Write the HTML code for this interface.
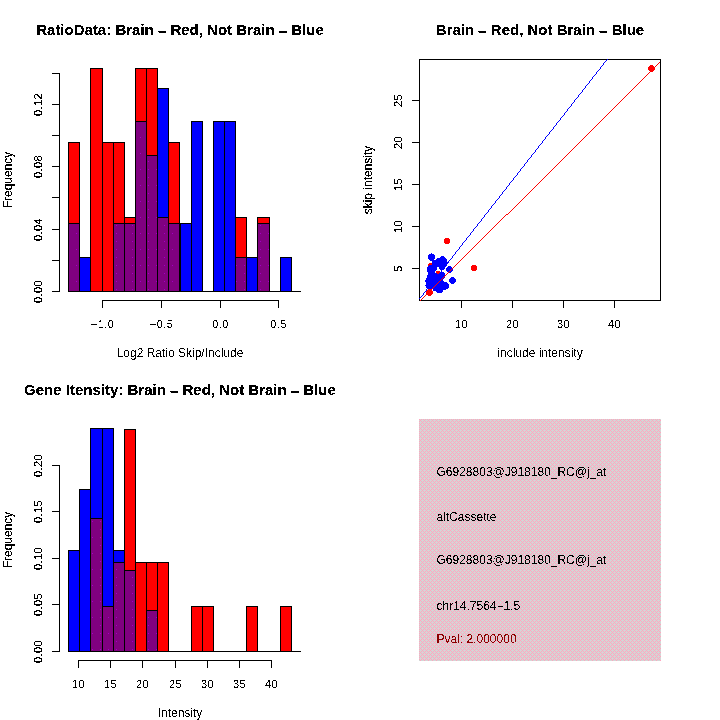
<!DOCTYPE html>
<html><head><meta charset="utf-8"><style>
html,body{margin:0;padding:0;background:#fff;}
svg{display:block;}
text{font-family:"Liberation Sans",sans-serif;}
.ti{font-weight:bold;font-size:15px;}
.lb{font-size:12px;}
.da{stroke:#000;stroke-width:0.3px;}
.tk{font-size:11px;letter-spacing:0.4px;}
.ln line,.ln rect{stroke:#000;stroke-width:1;}
.ln line{shape-rendering:crispEdges;}
.ln rect{shape-rendering:crispEdges;}
</style></head><body>
<svg width="720" height="720" viewBox="0 0 720 720">
<defs>
<filter id="bin" x="0" y="0" width="100%" height="100%" filterUnits="userSpaceOnUse" color-interpolation-filters="sRGB">
<feComponentTransfer><feFuncA type="discrete" tableValues="0 1"/></feComponentTransfer>
</filter>
<filter id="bin2" x="0" y="0" width="100%" height="100%" filterUnits="userSpaceOnUse" color-interpolation-filters="sRGB">
<feComponentTransfer><feFuncA type="discrete" tableValues="0 0 0 0 1 1 1 1 1 1"/></feComponentTransfer>
</filter>
<pattern id="purp" x="0" y="0" width="16" height="16" patternUnits="userSpaceOnUse">
<rect width="16" height="16" fill="#800080"/>
<rect x="4" y="1" width="1" height="1" fill="#a400c4"/><rect x="4" y="9" width="1" height="1" fill="#a400c4"/><rect x="12" y="9" width="1" height="1" fill="#a400c4"/>
</pattern>
<pattern id="dith" x="419" y="419" width="4" height="4" patternUnits="userSpaceOnUse">
<rect width="4" height="4" fill="#d4d5d5"/>
<rect x="0" y="0" width="1" height="1" fill="#ffa6bf"/><rect x="2" y="0" width="1" height="1" fill="#ffa6bf"/>
<rect x="1" y="1" width="1" height="1" fill="#ffa6bf"/>
<rect x="0" y="2" width="1" height="1" fill="#ffa6bf"/><rect x="2" y="2" width="1" height="1" fill="#ffa6bf"/>
<rect x="3" y="3" width="1" height="1" fill="#ffa6bf"/>
</pattern>
</defs>
<rect width="720" height="720" fill="#fff"/>
<g class="ln">
<rect x="68.5" y="142.5" width="11" height="149" fill="#ff0000"/>
<rect x="68.5" y="223.5" width="11" height="68" fill="url(#purp)"/>
<rect x="79.5" y="257.5" width="11" height="34" fill="#0000ff"/>
<rect x="90.5" y="68.5" width="12" height="223" fill="#ff0000"/>
<rect x="102.5" y="142.5" width="11" height="149" fill="#ff0000"/>
<rect x="113.5" y="142.5" width="11" height="149" fill="#ff0000"/>
<rect x="113.5" y="223.5" width="11" height="68" fill="url(#purp)"/>
<rect x="124.5" y="217.5" width="11" height="74" fill="#ff0000"/>
<rect x="124.5" y="223.5" width="11" height="68" fill="url(#purp)"/>
<rect x="135.5" y="68.5" width="11" height="223" fill="#ff0000"/>
<rect x="135.5" y="121.5" width="11" height="170" fill="url(#purp)"/>
<rect x="146.5" y="68.5" width="11" height="223" fill="#ff0000"/>
<rect x="146.5" y="155.5" width="11" height="136" fill="url(#purp)"/>
<rect x="157.5" y="88.5" width="11" height="203" fill="#0000ff"/>
<rect x="157.5" y="217.5" width="11" height="74" fill="url(#purp)"/>
<rect x="168.5" y="142.5" width="11" height="149" fill="#ff0000"/>
<rect x="168.5" y="223.5" width="11" height="68" fill="url(#purp)"/>
<rect x="180.5" y="223.5" width="11" height="68" fill="#0000ff"/>
<rect x="191.5" y="121.5" width="11" height="170" fill="#0000ff"/>
<rect x="213.5" y="121.5" width="11" height="170" fill="#0000ff"/>
<rect x="224.5" y="121.5" width="11" height="170" fill="#0000ff"/>
<rect x="235.5" y="217.5" width="11" height="74" fill="#ff0000"/>
<rect x="235.5" y="257.5" width="11" height="34" fill="url(#purp)"/>
<rect x="246.5" y="257.5" width="11" height="34" fill="#0000ff"/>
<rect x="257.5" y="217.5" width="12" height="74" fill="#ff0000"/>
<rect x="257.5" y="223.5" width="12" height="68" fill="url(#purp)"/>
<rect x="280.5" y="257.5" width="11" height="34" fill="#0000ff"/>
<line x1="68" y1="291.5" x2="301" y2="291.5"/>
<line x1="102" y1="300.5" x2="279" y2="300.5"/>
<line x1="102.5" y1="300" x2="102.5" y2="308"/>
<line x1="161.5" y1="300" x2="161.5" y2="308"/>
<line x1="220.5" y1="300" x2="220.5" y2="308"/>
<line x1="278.5" y1="300" x2="278.5" y2="308"/>
<line x1="59.5" y1="73" x2="59.5" y2="292"/>
<line x1="52" y1="291.5" x2="60" y2="291.5"/>
<line x1="52" y1="260.5" x2="60" y2="260.5"/>
<line x1="52" y1="229.5" x2="60" y2="229.5"/>
<line x1="52" y1="197.5" x2="60" y2="197.5"/>
<line x1="52" y1="166.5" x2="60" y2="166.5"/>
<line x1="52" y1="135.5" x2="60" y2="135.5"/>
<line x1="52" y1="104.5" x2="60" y2="104.5"/>
<line x1="52" y1="73.5" x2="60" y2="73.5"/>
</g>
<g class="ln">
<rect x="68.5" y="550.5" width="11" height="101" fill="#0000ff"/>
<rect x="79.5" y="489.5" width="11" height="162" fill="#0000ff"/>
<rect x="90.5" y="428.5" width="12" height="223" fill="#0000ff"/>
<rect x="90.5" y="518.5" width="12" height="133" fill="url(#purp)"/>
<rect x="102.5" y="428.5" width="11" height="223" fill="#0000ff"/>
<rect x="102.5" y="606.5" width="11" height="45" fill="url(#purp)"/>
<rect x="113.5" y="550.5" width="11" height="101" fill="#0000ff"/>
<rect x="113.5" y="562.5" width="11" height="89" fill="url(#purp)"/>
<rect x="124.5" y="429.5" width="11" height="222" fill="#ff0000"/>
<rect x="124.5" y="570.5" width="11" height="81" fill="url(#purp)"/>
<rect x="135.5" y="562.5" width="11" height="89" fill="#ff0000"/>
<rect x="146.5" y="562.5" width="11" height="89" fill="#ff0000"/>
<rect x="146.5" y="610.5" width="11" height="41" fill="url(#purp)"/>
<rect x="157.5" y="562.5" width="11" height="89" fill="#ff0000"/>
<rect x="191.5" y="606.5" width="11" height="45" fill="#ff0000"/>
<rect x="202.5" y="606.5" width="11" height="45" fill="#ff0000"/>
<rect x="246.5" y="606.5" width="11" height="45" fill="#ff0000"/>
<rect x="280.5" y="606.5" width="11" height="45" fill="#ff0000"/>
<line x1="68" y1="651.5" x2="301" y2="651.5"/>
<line x1="78" y1="660.5" x2="272" y2="660.5"/>
<line x1="78.5" y1="660" x2="78.5" y2="668"/>
<line x1="110.5" y1="660" x2="110.5" y2="668"/>
<line x1="142.5" y1="660" x2="142.5" y2="668"/>
<line x1="175.5" y1="660" x2="175.5" y2="668"/>
<line x1="207.5" y1="660" x2="207.5" y2="668"/>
<line x1="239.5" y1="660" x2="239.5" y2="668"/>
<line x1="271.5" y1="660" x2="271.5" y2="668"/>
<line x1="59.5" y1="465" x2="59.5" y2="652"/>
<line x1="52" y1="651.5" x2="60" y2="651.5"/>
<line x1="52" y1="604.5" x2="60" y2="604.5"/>
<line x1="52" y1="558.5" x2="60" y2="558.5"/>
<line x1="52" y1="511.5" x2="60" y2="511.5"/>
<line x1="52" y1="465.5" x2="60" y2="465.5"/>
</g>
<g shape-rendering="crispEdges">
<rect x="431" y="253" width="1" height="1" fill="#0000ff"/>
<rect x="429" y="254" width="5" height="1" fill="#0000ff"/>
<rect x="428" y="255" width="7" height="1" fill="#0000ff"/>
<rect x="428" y="256" width="7" height="1" fill="#0000ff"/>
<rect x="441" y="256" width="3" height="1" fill="#0000ff"/>
<rect x="428" y="257" width="7" height="1" fill="#0000ff"/>
<rect x="440" y="257" width="5" height="1" fill="#0000ff"/>
<rect x="428" y="258" width="7" height="1" fill="#0000ff"/>
<rect x="437" y="258" width="9" height="1" fill="#0000ff"/>
<rect x="429" y="259" width="5" height="1" fill="#0000ff"/>
<rect x="436" y="259" width="11" height="1" fill="#0000ff"/>
<rect x="430" y="260" width="17" height="1" fill="#0000ff"/>
<rect x="432" y="261" width="15" height="1" fill="#0000ff"/>
<rect x="432" y="262" width="16" height="1" fill="#0000ff"/>
<rect x="432" y="263" width="16" height="1" fill="#0000ff"/>
<rect x="432" y="264" width="15" height="1" fill="#0000ff"/>
<rect x="429" y="265" width="18" height="1" fill="#0000ff"/>
<rect x="428" y="266" width="18" height="1" fill="#0000ff"/>
<rect x="427" y="267" width="10" height="1" fill="#0000ff"/>
<rect x="439" y="267" width="6" height="1" fill="#0000ff"/>
<rect x="427" y="268" width="10" height="1" fill="#0000ff"/>
<rect x="439" y="268" width="6" height="1" fill="#0000ff"/>
<rect x="427" y="269" width="10" height="1" fill="#0000ff"/>
<rect x="440" y="269" width="4" height="1" fill="#0000ff"/>
<rect x="427" y="270" width="9" height="1" fill="#0000ff"/>
<rect x="441" y="270" width="1" height="1" fill="#0000ff"/>
<rect x="427" y="271" width="8" height="1" fill="#0000ff"/>
<rect x="428" y="272" width="7" height="1" fill="#0000ff"/>
<rect x="440" y="272" width="4" height="1" fill="#0000ff"/>
<rect x="428" y="273" width="9" height="1" fill="#0000ff"/>
<rect x="439" y="273" width="6" height="1" fill="#0000ff"/>
<rect x="428" y="274" width="17" height="1" fill="#0000ff"/>
<rect x="427" y="275" width="18" height="1" fill="#0000ff"/>
<rect x="427" y="276" width="18" height="1" fill="#0000ff"/>
<rect x="427" y="277" width="18" height="1" fill="#0000ff"/>
<rect x="426" y="278" width="18" height="1" fill="#0000ff"/>
<rect x="426" y="279" width="17" height="1" fill="#0000ff"/>
<rect x="425" y="280" width="18" height="1" fill="#0000ff"/>
<rect x="425" y="281" width="19" height="1" fill="#0000ff"/>
<rect x="426" y="282" width="21" height="1" fill="#0000ff"/>
<rect x="426" y="283" width="22" height="1" fill="#0000ff"/>
<rect x="426" y="284" width="23" height="1" fill="#0000ff"/>
<rect x="425" y="285" width="24" height="1" fill="#0000ff"/>
<rect x="426" y="286" width="23" height="1" fill="#0000ff"/>
<rect x="426" y="287" width="23" height="1" fill="#0000ff"/>
<rect x="427" y="288" width="21" height="1" fill="#0000ff"/>
<rect x="433" y="289" width="13" height="1" fill="#0000ff"/>
<rect x="433" y="290" width="10" height="1" fill="#0000ff"/>
<rect x="436" y="291" width="7" height="1" fill="#0000ff"/>
<rect x="437" y="292" width="5" height="1" fill="#0000ff"/>
<rect x="429" y="263" width="3" height="1" fill="#ff0000"/>
<rect x="428" y="264" width="4" height="1" fill="#ff0000"/>
<rect x="428" y="265" width="1" height="1" fill="#ff0000"/>
<rect x="436" y="271" width="4" height="1" fill="#ff0000"/>
<rect x="436" y="272" width="4" height="1" fill="#ff0000"/>
<rect x="437" y="273" width="2" height="1" fill="#ff0000"/>
</g>
<g shape-rendering="crispEdges">
<path d="M448 266h3v1h-3zM447 267h5v1h-5zM446 268h7v1h-7zM446 269h7v1h-7zM446 270h7v1h-7zM447 271h5v1h-5zM448 272h3v1h-3zM451 277h3v1h-3zM450 278h5v1h-5zM449 279h7v1h-7zM449 280h7v1h-7zM449 281h7v1h-7zM450 282h5v1h-5zM451 283h3v1h-3z" fill="#0000ff"/>
<path d="M428 289h3v1h-3zM427 290h5v1h-5zM426 291h7v1h-7zM426 292h7v1h-7zM426 293h7v1h-7zM427 294h5v1h-5zM428 295h3v1h-3zM445 238h4v1h-4zM444 239h6v1h-6zM444 240h6v1h-6zM444 241h6v1h-6zM444 242h6v1h-6zM445 243h4v1h-4zM472 265h4v1h-4zM471 266h6v1h-6zM471 267h6v1h-6zM471 268h6v1h-6zM471 269h6v1h-6zM472 270h4v1h-4zM650 65h3v1h-3zM649 66h5v1h-5zM648 67h7v1h-7zM648 68h7v1h-7zM648 69h7v1h-7zM649 70h5v1h-5zM650 71h3v1h-3z" fill="#ff0000"/>
</g>
<g class="ln">
<rect x="419.5" y="59.5" width="241" height="241" fill="none"/>
<line x1="461.5" y1="300" x2="461.5" y2="308"/>
<line x1="512.5" y1="300" x2="512.5" y2="308"/>
<line x1="563.5" y1="300" x2="563.5" y2="308"/>
<line x1="614.5" y1="300" x2="614.5" y2="308"/>
<line x1="412" y1="268.5" x2="420" y2="268.5"/>
<line x1="412" y1="226.5" x2="420" y2="226.5"/>
<line x1="412" y1="184.5" x2="420" y2="184.5"/>
<line x1="412" y1="142.5" x2="420" y2="142.5"/>
<line x1="412" y1="100.5" x2="420" y2="100.5"/>
</g>
<path d="M607 59h1v1h-1zM606 60h1v1h-1zM605 61h1v1h-1zM604 62h1v1h-1zM603 63h1v1h-1zM603 64h1v1h-1zM602 65h1v1h-1zM601 66h1v1h-1zM600 67h1v1h-1zM600 68h1v1h-1zM599 69h1v1h-1zM598 70h1v1h-1zM597 71h1v1h-1zM596 72h1v1h-1zM596 73h1v1h-1zM595 74h1v1h-1zM594 75h1v1h-1zM593 76h1v1h-1zM592 77h1v1h-1zM592 78h1v1h-1zM591 79h1v1h-1zM590 80h1v1h-1zM589 81h1v1h-1zM589 82h1v1h-1zM588 83h1v1h-1zM587 84h1v1h-1zM586 85h1v1h-1zM585 86h1v1h-1zM585 87h1v1h-1zM584 88h1v1h-1zM583 89h1v1h-1zM582 90h1v1h-1zM582 91h1v1h-1zM581 92h1v1h-1zM580 93h1v1h-1zM579 94h1v1h-1zM578 95h1v1h-1zM578 96h1v1h-1zM577 97h1v1h-1zM576 98h1v1h-1zM575 99h1v1h-1zM574 100h1v1h-1zM574 101h1v1h-1zM573 102h1v1h-1zM572 103h1v1h-1zM571 104h1v1h-1zM571 105h1v1h-1zM570 106h1v1h-1zM569 107h1v1h-1zM568 108h1v1h-1zM567 109h1v1h-1zM567 110h1v1h-1zM566 111h1v1h-1zM565 112h1v1h-1zM564 113h1v1h-1zM564 114h1v1h-1zM563 115h1v1h-1zM562 116h1v1h-1zM561 117h1v1h-1zM560 118h1v1h-1zM560 119h1v1h-1zM559 120h1v1h-1zM558 121h1v1h-1zM557 122h1v1h-1zM556 123h1v1h-1zM556 124h1v1h-1zM555 125h1v1h-1zM554 126h1v1h-1zM553 127h1v1h-1zM553 128h1v1h-1zM552 129h1v1h-1zM551 130h1v1h-1zM550 131h1v1h-1zM549 132h1v1h-1zM549 133h1v1h-1zM548 134h1v1h-1zM547 135h1v1h-1zM546 136h1v1h-1zM545 137h1v1h-1zM545 138h1v1h-1zM544 139h1v1h-1zM543 140h1v1h-1zM542 141h1v1h-1zM542 142h1v1h-1zM541 143h1v1h-1zM540 144h1v1h-1zM539 145h1v1h-1zM538 146h1v1h-1zM538 147h1v1h-1zM537 148h1v1h-1zM536 149h1v1h-1zM535 150h1v1h-1zM535 151h1v1h-1zM534 152h1v1h-1zM533 153h1v1h-1zM532 154h1v1h-1zM531 155h1v1h-1zM531 156h1v1h-1zM530 157h1v1h-1zM529 158h1v1h-1zM528 159h1v1h-1zM527 160h1v1h-1zM527 161h1v1h-1zM526 162h1v1h-1zM525 163h1v1h-1zM524 164h1v1h-1zM524 165h1v1h-1zM523 166h1v1h-1zM522 167h1v1h-1zM521 168h1v1h-1zM520 169h1v1h-1zM520 170h1v1h-1zM519 171h1v1h-1zM518 172h1v1h-1zM517 173h1v1h-1zM517 174h1v1h-1zM516 175h1v1h-1zM515 176h1v1h-1zM514 177h1v1h-1zM513 178h1v1h-1zM513 179h1v1h-1zM512 180h1v1h-1zM511 181h1v1h-1zM510 182h1v1h-1zM509 183h1v1h-1zM509 184h1v1h-1zM508 185h1v1h-1zM507 186h1v1h-1zM506 187h1v1h-1zM506 188h1v1h-1zM505 189h1v1h-1zM504 190h1v1h-1zM503 191h1v1h-1zM502 192h1v1h-1zM502 193h1v1h-1zM501 194h1v1h-1zM500 195h1v1h-1zM499 196h1v1h-1zM499 197h1v1h-1zM498 198h1v1h-1zM497 199h1v1h-1zM496 200h1v1h-1zM495 201h1v1h-1zM495 202h1v1h-1zM494 203h1v1h-1zM493 204h1v1h-1zM492 205h1v1h-1zM491 206h1v1h-1zM491 207h1v1h-1zM490 208h1v1h-1zM489 209h1v1h-1zM488 210h1v1h-1zM488 211h1v1h-1zM487 212h1v1h-1zM486 213h1v1h-1zM485 214h1v1h-1zM484 215h1v1h-1zM484 216h1v1h-1zM483 217h1v1h-1zM482 218h1v1h-1zM481 219h1v1h-1zM481 220h1v1h-1zM480 221h1v1h-1zM479 222h1v1h-1zM478 223h1v1h-1zM477 224h1v1h-1zM477 225h1v1h-1zM476 226h1v1h-1zM475 227h1v1h-1zM474 228h1v1h-1zM473 229h1v1h-1zM473 230h1v1h-1zM472 231h1v1h-1zM471 232h1v1h-1zM470 233h1v1h-1zM470 234h1v1h-1zM469 235h1v1h-1zM468 236h1v1h-1zM467 237h1v1h-1zM466 238h1v1h-1zM466 239h1v1h-1zM465 240h1v1h-1zM464 241h1v1h-1zM463 242h1v1h-1zM462 243h1v1h-1zM462 244h1v1h-1zM461 245h1v1h-1zM460 246h1v1h-1zM459 247h1v1h-1zM459 248h1v1h-1zM458 249h1v1h-1zM457 250h1v1h-1zM456 251h1v1h-1zM455 252h1v1h-1zM455 253h1v1h-1zM454 254h1v1h-1zM453 255h1v1h-1zM452 256h1v1h-1zM452 257h1v1h-1zM451 258h1v1h-1zM450 259h1v1h-1zM449 260h1v1h-1zM448 261h1v1h-1zM448 262h1v1h-1zM447 263h1v1h-1zM446 264h1v1h-1zM445 265h1v1h-1zM444 266h1v1h-1zM444 267h1v1h-1zM443 268h1v1h-1zM442 269h1v1h-1zM441 270h1v1h-1zM441 271h1v1h-1zM440 272h1v1h-1zM439 273h1v1h-1zM438 274h1v1h-1zM437 275h1v1h-1zM437 276h1v1h-1zM436 277h1v1h-1zM435 278h1v1h-1zM434 279h1v1h-1zM434 280h1v1h-1zM433 281h1v1h-1zM432 282h1v1h-1zM431 283h1v1h-1zM430 284h1v1h-1zM430 285h1v1h-1zM429 286h1v1h-1zM428 287h1v1h-1zM427 288h1v1h-1zM426 289h1v1h-1zM426 290h1v1h-1zM425 291h1v1h-1zM424 292h1v1h-1zM423 293h1v1h-1zM423 294h1v1h-1zM422 295h1v1h-1zM421 296h1v1h-1zM420 297h1v1h-1zM419 298h1v1h-1z" fill="#0000ff" shape-rendering="crispEdges"/>
<path d="M659 62h1v1h-1zM658 63h1v1h-1zM657 64h1v1h-1zM656 65h1v1h-1zM655 66h1v1h-1zM654 67h1v1h-1zM653 68h1v1h-1zM652 69h1v1h-1zM651 70h1v1h-1zM650 71h1v1h-1zM649 72h1v1h-1zM648 73h1v1h-1zM647 74h1v1h-1zM646 75h1v1h-1zM645 76h1v1h-1zM644 77h1v1h-1zM643 78h1v1h-1zM642 79h1v1h-1zM641 80h1v1h-1zM640 81h1v1h-1zM639 82h1v1h-1zM638 83h1v1h-1zM637 84h1v1h-1zM636 85h1v1h-1zM635 86h1v1h-1zM634 87h1v1h-1zM633 88h1v1h-1zM632 89h1v1h-1zM631 90h1v1h-1zM630 91h1v1h-1zM629 92h1v1h-1zM628 93h1v1h-1zM627 94h1v1h-1zM626 95h1v1h-1zM625 96h1v1h-1zM624 97h1v1h-1zM623 98h1v1h-1zM622 99h1v1h-1zM621 100h1v1h-1zM620 101h1v1h-1zM619 102h1v1h-1zM618 103h1v1h-1zM617 104h1v1h-1zM616 105h1v1h-1zM615 106h1v1h-1zM614 107h1v1h-1zM613 108h1v1h-1zM612 109h1v1h-1zM611 110h1v1h-1zM610 111h1v1h-1zM609 112h1v1h-1zM608 113h1v1h-1zM607 114h1v1h-1zM606 115h1v1h-1zM605 116h1v1h-1zM604 117h1v1h-1zM603 118h1v1h-1zM602 119h1v1h-1zM601 120h1v1h-1zM600 121h1v1h-1zM599 122h1v1h-1zM598 123h1v1h-1zM597 124h1v1h-1zM596 125h1v1h-1zM595 126h1v1h-1zM594 127h1v1h-1zM593 128h1v1h-1zM592 129h1v1h-1zM591 130h1v1h-1zM590 131h1v1h-1zM589 132h1v1h-1zM588 133h1v1h-1zM587 134h1v1h-1zM586 135h1v1h-1zM585 136h1v1h-1zM584 137h1v1h-1zM583 138h1v1h-1zM582 139h1v1h-1zM581 140h1v1h-1zM580 141h1v1h-1zM579 142h1v1h-1zM578 143h1v1h-1zM577 144h1v1h-1zM576 145h1v1h-1zM575 146h1v1h-1zM574 147h1v1h-1zM573 148h1v1h-1zM572 149h1v1h-1zM571 150h1v1h-1zM570 151h1v1h-1zM569 152h1v1h-1zM568 153h1v1h-1zM567 154h1v1h-1zM566 155h1v1h-1zM565 156h1v1h-1zM564 157h1v1h-1zM563 158h1v1h-1zM562 159h1v1h-1zM561 160h1v1h-1zM560 161h1v1h-1zM559 162h1v1h-1zM558 163h1v1h-1zM557 164h1v1h-1zM556 165h1v1h-1zM555 166h1v1h-1zM554 167h1v1h-1zM553 168h1v1h-1zM552 169h1v1h-1zM551 170h1v1h-1zM550 171h1v1h-1zM549 172h1v1h-1zM548 173h1v1h-1zM547 174h1v1h-1zM546 175h1v1h-1zM545 176h1v1h-1zM544 177h1v1h-1zM543 178h1v1h-1zM542 179h1v1h-1zM541 180h1v1h-1zM540 181h1v1h-1zM539 182h1v1h-1zM538 183h1v1h-1zM537 184h1v1h-1zM536 185h1v1h-1zM535 186h1v1h-1zM534 187h1v1h-1zM533 188h1v1h-1zM532 189h1v1h-1zM531 190h1v1h-1zM530 191h1v1h-1zM529 192h1v1h-1zM528 193h1v1h-1zM527 194h1v1h-1zM526 195h1v1h-1zM525 196h1v1h-1zM524 197h1v1h-1zM523 198h1v1h-1zM522 199h1v1h-1zM521 200h1v1h-1zM520 201h1v1h-1zM519 202h1v1h-1zM518 203h1v1h-1zM517 204h1v1h-1zM516 205h1v1h-1zM515 206h1v1h-1zM514 207h1v1h-1zM513 208h1v1h-1zM512 209h1v1h-1zM511 210h1v1h-1zM510 211h1v1h-1zM509 212h1v1h-1zM508 213h1v1h-1zM506 214h1v1h-1zM507 214h1v1h-1zM505 215h1v1h-1zM504 216h1v1h-1zM503 217h1v1h-1zM502 218h1v1h-1zM501 219h1v1h-1zM500 220h1v1h-1zM499 221h1v1h-1zM498 222h1v1h-1zM497 223h1v1h-1zM496 224h1v1h-1zM495 225h1v1h-1zM494 226h1v1h-1zM493 227h1v1h-1zM492 228h1v1h-1zM491 229h1v1h-1zM490 230h1v1h-1zM489 231h1v1h-1zM488 232h1v1h-1zM487 233h1v1h-1zM486 234h1v1h-1zM485 235h1v1h-1zM484 236h1v1h-1zM483 237h1v1h-1zM482 238h1v1h-1zM481 239h1v1h-1zM480 240h1v1h-1zM479 241h1v1h-1zM478 242h1v1h-1zM477 243h1v1h-1zM476 244h1v1h-1zM475 245h1v1h-1zM474 246h1v1h-1zM473 247h1v1h-1zM472 248h1v1h-1zM471 249h1v1h-1zM470 250h1v1h-1zM469 251h1v1h-1zM468 252h1v1h-1zM467 253h1v1h-1zM466 254h1v1h-1zM465 255h1v1h-1zM464 256h1v1h-1zM463 257h1v1h-1zM462 258h1v1h-1zM461 259h1v1h-1zM460 260h1v1h-1zM459 261h1v1h-1zM458 262h1v1h-1zM457 263h1v1h-1zM456 264h1v1h-1zM455 265h1v1h-1zM454 266h1v1h-1zM453 267h1v1h-1zM452 268h1v1h-1zM451 269h1v1h-1zM450 270h1v1h-1zM449 271h1v1h-1zM448 272h1v1h-1zM447 273h1v1h-1zM446 274h1v1h-1zM445 275h1v1h-1zM444 276h1v1h-1zM443 277h1v1h-1zM442 278h1v1h-1zM441 279h1v1h-1zM440 280h1v1h-1zM439 281h1v1h-1zM438 282h1v1h-1zM437 283h1v1h-1zM436 284h1v1h-1zM435 285h1v1h-1zM434 286h1v1h-1zM433 287h1v1h-1zM432 288h1v1h-1zM431 289h1v1h-1zM430 290h1v1h-1zM429 291h1v1h-1zM428 292h1v1h-1zM427 293h1v1h-1zM426 294h1v1h-1zM425 295h1v1h-1zM424 296h1v1h-1zM423 297h1v1h-1zM422 298h1v1h-1zM421 299h1v1h-1zM420 300h1v1h-1z" fill="#ff0000" shape-rendering="crispEdges"/>
<rect x="419" y="419" width="242" height="242" fill="url(#dith)"/>
<g filter="url(#bin)">
<text class="tk" x="102.5" y="327.7" text-anchor="middle">−1.0</text>
<text class="tk" x="161.5" y="327.7" text-anchor="middle">−0.5</text>
<text class="tk" x="220.5" y="327.7" text-anchor="middle">0.0</text>
<text class="tk" x="278.5" y="327.7" text-anchor="middle">0.5</text>
<text class="lb" x="180" y="356.5" text-anchor="middle">Log2 Ratio Skip/Include</text>
<text class="tk" x="78.5" y="687.5" text-anchor="middle">10</text>
<text class="tk" x="110.5" y="687.5" text-anchor="middle">15</text>
<text class="tk" x="142.5" y="687.5" text-anchor="middle">20</text>
<text class="tk" x="175.5" y="687.5" text-anchor="middle">25</text>
<text class="tk" x="207.5" y="687.5" text-anchor="middle">30</text>
<text class="tk" x="239.5" y="687.5" text-anchor="middle">35</text>
<text class="tk" x="271.5" y="687.5" text-anchor="middle">40</text>
<text class="lb" x="180" y="716.5" text-anchor="middle">Intensity</text>
<text class="lb" x="540" y="356.5" text-anchor="middle">include intensity</text>
<text class="tk" x="461.5" y="327.7" text-anchor="middle">10</text>
<text class="tk" x="512.5" y="327.7" text-anchor="middle">20</text>
<text class="tk" x="563.5" y="327.7" text-anchor="middle">30</text>
<text class="tk" x="614.5" y="327.7" text-anchor="middle">40</text>
<text class="lb" x="436.5" y="475.5" fill="#000">G6928803@J918180_RC@j_at</text>
<text class="lb" x="436.5" y="520.6" fill="#000">altCassette</text>
<text class="lb" x="436.5" y="564.3" fill="#000">G6928803@J918180_RC@j_at</text>
<text class="lb" x="436.5" y="609.9" fill="#000">chr14.7564−1.5</text>
<text class="lb" x="436.5" y="642.5" fill="#8b0000">Pval: 2.000000</text>
</g>
<g filter="url(#bin2)">
<text class="tk" transform="translate(42,291.5) rotate(-90)" text-anchor="middle">0.00</text>
<text class="tk" transform="translate(42,229.5) rotate(-90)" text-anchor="middle">0.04</text>
<text class="tk" transform="translate(42,166.5) rotate(-90)" text-anchor="middle">0.08</text>
<text class="tk" transform="translate(42,104.5) rotate(-90)" text-anchor="middle">0.12</text>
<text class="ti" x="180" y="34.5" text-anchor="middle">RatioData: Brain <tspan class="da" dy="1.4">–</tspan><tspan dy="-1.4"> </tspan>Red, Not Brain <tspan class="da" dy="1.4">–</tspan><tspan dy="-1.4"> </tspan>Blue</text>
<text class="lb" transform="translate(12,180) rotate(-90)" text-anchor="middle">Frequency</text>
<text class="tk" transform="translate(42,651.5) rotate(-90)" text-anchor="middle">0.00</text>
<text class="tk" transform="translate(42,604.5) rotate(-90)" text-anchor="middle">0.05</text>
<text class="tk" transform="translate(42,558.5) rotate(-90)" text-anchor="middle">0.10</text>
<text class="tk" transform="translate(42,511.5) rotate(-90)" text-anchor="middle">0.15</text>
<text class="tk" transform="translate(42,465.5) rotate(-90)" text-anchor="middle">0.20</text>
<text class="ti" x="180" y="394.5" text-anchor="middle">Gene Itensity: Brain <tspan class="da" dy="1.4">–</tspan><tspan dy="-1.4"> </tspan>Red, Not Brain <tspan class="da" dy="1.4">–</tspan><tspan dy="-1.4"> </tspan>Blue</text>
<text class="lb" transform="translate(12,540) rotate(-90)" text-anchor="middle">Frequency</text>
<text class="ti" x="540" y="34.5" text-anchor="middle">Brain <tspan class="da" dy="1.4">–</tspan><tspan dy="-1.4"> </tspan>Red, Not Brain <tspan class="da" dy="1.4">–</tspan><tspan dy="-1.4"> </tspan>Blue</text>
<text class="lb" transform="translate(372,180) rotate(-90)" text-anchor="middle">skip intensity</text>
<text class="tk" transform="translate(402,268.5) rotate(-90)" text-anchor="middle">5</text>
<text class="tk" transform="translate(402,226.5) rotate(-90)" text-anchor="middle">10</text>
<text class="tk" transform="translate(402,184.5) rotate(-90)" text-anchor="middle">15</text>
<text class="tk" transform="translate(402,142.5) rotate(-90)" text-anchor="middle">20</text>
<text class="tk" transform="translate(402,100.5) rotate(-90)" text-anchor="middle">25</text>
</g>
</svg>
</body></html>
